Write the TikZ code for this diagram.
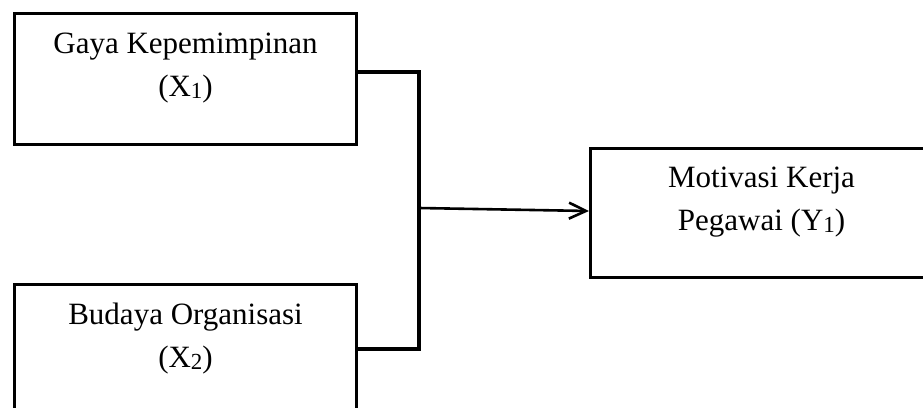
\documentclass[tikz,border=0pt]{standalone}
\usepackage{fontspec}
\setmainfont{Liberation Serif}
\usetikzlibrary{arrows.meta,calc}
% lowered index digit, set a little smaller than the caption text
\newcommand{\idx}[1]{\raisebox{-2.5pt}{\fontsize{23}{23}\selectfont #1}}
\begin{document}
\begin{tikzpicture}[x=1pt,y=-1pt,
  varbox/.style={draw, line width=3.1pt, rectangle, inner sep=0pt, anchor=north west},
  boxtext/.style={align=center, inner sep=0pt, anchor=north,
    font=\fontsize{31}{43}\selectfont},
  link/.style={line width=3.2pt},
  flow/.style={line width=2.6pt, -{Straight Barb[length=17pt,width=16pt]}}]
\useasboundingbox (0,0) rectangle (923,407);

% variable boxes
\node[varbox, minimum width=342pt, minimum height=131pt] (x1) at (13,12) {};
\node[varbox, minimum width=342pt, minimum height=150pt] (x2) at (13,283) {};
\node[varbox, minimum width=342pt, minimum height=129pt] (y1) at (589,147) {};

% box captions
\node[boxtext] (t1) at ($(x1.north)+(0,11)$)
  {\strut Gaya Kepemimpinan\\\strut(X\idx{1})};
\node[boxtext] (t2) at ($(x2.north)+(0,11)$)
  {\strut Budaya Organisasi\\\strut(X\idx{2})};
\node[boxtext] (t3) at ($(y1.north)+(0,10)$)
  {\strut Motivasi Kerja\\\strut Pegawai (Y\idx{1})};

% joining bracket and arrow
\coordinate (j1) at (419,72);
\coordinate (j2) at (419,349);
\coordinate (a0) at (419,208);
\draw[link] (x1.east |- j1) -- (j1) -- (j2) -- (x2.east |- j2);
\draw[flow] (a0) -- (y1.west |- 0,211);
\end{tikzpicture}
\end{document}
